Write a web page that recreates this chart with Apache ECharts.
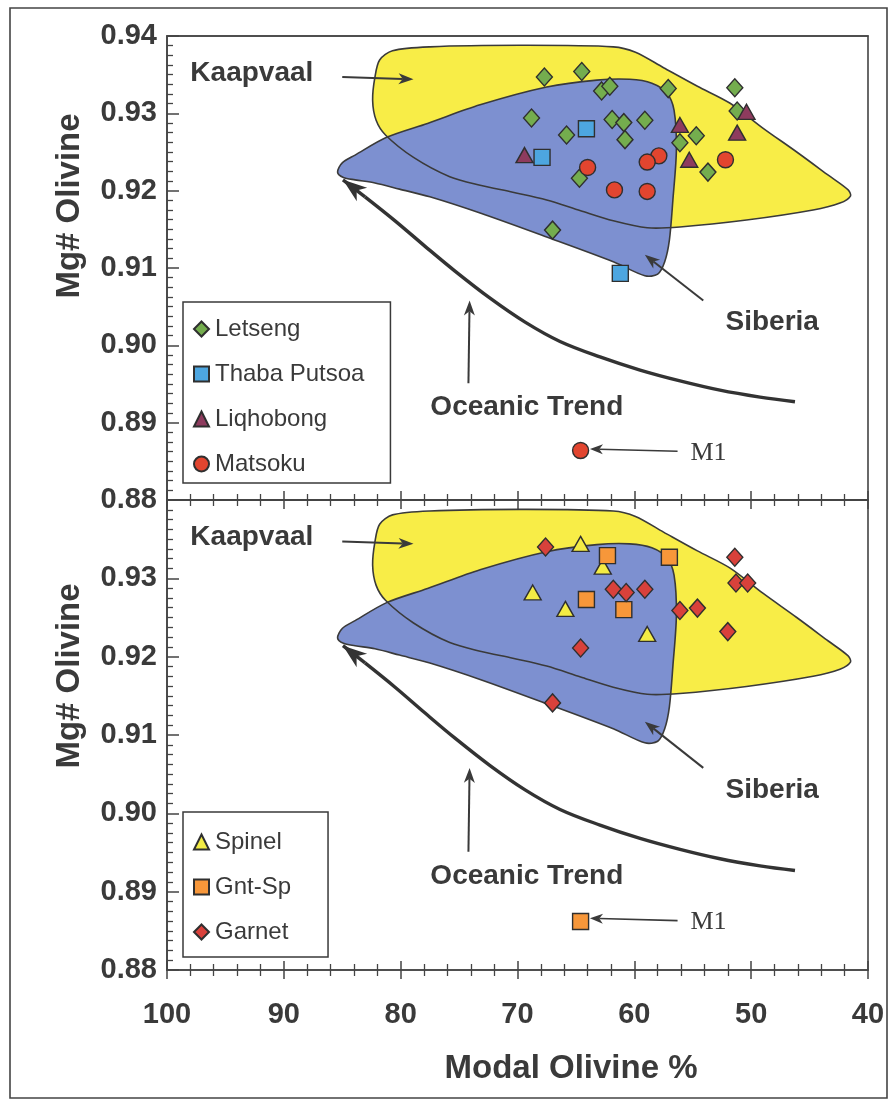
<!DOCTYPE html>
<html>
<head>
<meta charset="utf-8">
<script src="https://cdn.jsdelivr.net/npm/echarts@6/dist/echarts.min.js"></script>
<style>
  html, body { margin: 0; padding: 0; background: #ffffff; }
  #chart { width: 891px; height: 1103px; }
</style>
</head>
<body>
<div id="chart"></div>
<script>
// Samples as [modal olivine %, olivine Mg#]
const letseng = [[67.7,0.9347],[64.5,0.9354],[62.8,0.9329],[62.1,0.9335],[57.1,0.9332],[51.4,0.9333],
  [51.2,0.9303],[68.8,0.9294],[65.8,0.9272],[61.9,0.9292],[60.9,0.9288],[59.1,0.9291],[60.8,0.9266],
  [54.7,0.9271],[56.1,0.9262],[64.7,0.9216],[53.7,0.9224],[67.0,0.9149]];
const thabaPutsoa = [[64.1,0.9280],[67.9,0.9243],[61.2,0.9093]];
const liqhobong = [[50.4,0.9302],[56.1,0.9285],[51.2,0.9275],[69.4,0.9246],[55.3,0.9240]];
const matsoku = [[57.9,0.9245],[58.9,0.9237],[52.2,0.9240],[64.0,0.9230],[61.7,0.9201],[58.9,0.9199],[64.6,0.8864]];

const spinel = [[64.6,0.9344],[62.7,0.9315],[68.7,0.9282],[65.9,0.9261],[58.9,0.9229]];
const gntSp = [[62.3,0.9329],[57.0,0.9327],[64.1,0.9273],[60.9,0.9260],[64.6,0.8862]];
const garnet = [[67.6,0.9340],[51.4,0.9327],[51.3,0.9294],[50.3,0.9294],[61.8,0.9286],[60.7,0.9282],
  [59.1,0.9286],[56.1,0.9259],[54.6,0.9262],[52.0,0.9232],[64.6,0.9211],[67.0,0.9141]];

// Tick labels
const xTickLabels = ['40','50','60','70','80','90','100'];
const yTickLabelsTop = ['0.88','0.89','0.90','0.91','0.92','0.93','0.94'];
const yTickLabelsBottom = ['0.88','0.89','0.90','0.91','0.92','0.93','0.88'];

// Cratonic fields and oceanic trend, in data units
const kaapvaalField = [[81.8,0.9369],[80.7,0.9381],[77.5,0.9386],[69.8,0.9388],[61.8,0.9386],[59.9,0.9379],
  [57.5,0.9359],[54.6,0.9335],[51.8,0.9313],[49.0,0.9281],[46.1,0.9250],[43.4,0.9220],[41.7,0.9201],
  [41.5,0.9193],[42.4,0.9184],[44.7,0.9175],[50.4,0.9162],[56.1,0.9153],[58.9,0.9152],[61.8,0.9161],
  [64.6,0.9174],[67.5,0.9188],[70.4,0.9198],[73.2,0.9207],[75.8,0.9218],[78.9,0.9243],[81.3,0.9272],
  [82.1,0.9291],[82.4,0.9317],[82.2,0.9347]];
const siberiaField = [[85.4,0.9224],[85.0,0.9236],[83.9,0.9246],[81.2,0.9269],[77.7,0.9287],[73.2,0.9311],
  [67.5,0.9334],[63.2,0.9343],[60.4,0.9344],[58.5,0.9339],[57.2,0.9326],[56.6,0.9304],[56.4,0.9253],
  [56.7,0.9188],[57.0,0.9136],[57.4,0.9108],[58.0,0.9092],[59.1,0.9090],[61.8,0.9108],[67.5,0.9140],
  [73.2,0.9171],[77.5,0.9192],[80.1,0.9202],[82.2,0.9210],[83.9,0.9214],[84.9,0.9217]];
const oceanicTrend = [[84.94,0.9214],[83.05,0.9192],[80.48,0.9161],[77.91,0.9128],[75.35,0.9096],
  [72.35,0.9061],[69.35,0.9030],[66.36,0.9005],[62.94,0.8985],[59.51,0.8968],[56.09,0.8954],
  [52.67,0.8942],[49.24,0.8933],[46.25,0.8927]];

// Annotation labels with their pointer arrows
const noteTexts = ['Kaapvaal', 'Siberia', 'Oceanic Trend', 'M1'];
const noteAnchors = [[98.0,0.9352],[48.2,0.9030],[69.2,0.8920],[55.2,0.8861]];
const noteAligns = ['left', 'center', 'center', 'left'];
const arrowTails = [[85.0,0.9347],[54.1,0.9058],[74.2,0.8951],[56.3,0.8863]];
const arrowHeads = [[78.9,0.9344],[59.1,0.9117],[74.1,0.9058],[63.8,0.8866]];

const INK = '#3a3a3a';
const SANS = '"Liberation Sans", Arial, sans-serif';
const SERIF = '"Liberation Serif", "Times New Roman", serif';

function arrowHead(tip, from, len, wid) {
  const dx = tip[0] - from[0], dy = tip[1] - from[1];
  const d = Math.hypot(dx, dy) || 1;
  const ux = dx / d, uy = dy / d, px = -uy, py = ux;
  const bx = tip[0] - ux * len, by = tip[1] - uy * len;
  const nx = tip[0] - ux * len * 0.72, ny = tip[1] - uy * len * 0.72;
  return [tip, [bx + px * wid / 2, by + py * wid / 2], [nx, ny], [bx - px * wid / 2, by - py * wid / 2]];
}

function renderFields(params, api) {
  const k = kaapvaalField.map(p => api.coord(p));
  const s = siberiaField.map(p => api.coord(p));
  const t = oceanicTrend.map(p => api.coord(p));
  const edge = { fill: 'none', stroke: INK, lineWidth: 1.6 };
  return {
    type: 'group',
    children: [
      { type: 'polygon', shape: { points: k, smooth: 0.3 }, style: { fill: '#f8ed47' } },
      { type: 'polygon', shape: { points: s, smooth: 0.3 }, style: { fill: '#7d90d0' } },
      { type: 'polygon', shape: { points: k, smooth: 0.3 }, style: edge },
      { type: 'polygon', shape: { points: s, smooth: 0.3 }, style: edge },
      { type: 'polyline', shape: { points: t.slice(1), smooth: 0.35 }, style: { fill: 'none', stroke: '#333', lineWidth: 3.4 } },
      { type: 'polyline', shape: { points: [t[0], t[1]] }, style: { fill: 'none', stroke: '#333', lineWidth: 3.4 } },
      { type: 'polygon', shape: { points: arrowHead(t[0], t[1], 24, 17) }, style: { fill: '#333' } }
    ]
  };
}

function renderNotes(params, api) {
  const children = [];
  noteTexts.forEach((txt, i) => {
    const a = api.coord(noteAnchors[i]);
    const tail = api.coord(arrowTails[i]);
    const head = api.coord(arrowHeads[i]);
    const isM1 = txt === 'M1';
    children.push({
      type: 'text',
      style: {
        text: txt, x: a[0], y: a[1], align: noteAligns[i], verticalAlign: 'middle',
        font: isM1 ? '26px ' + SERIF : 'bold 28px ' + SANS, fill: INK
      }
    });
    const hb = arrowHead(head, tail, isM1 ? 13 : 15, isM1 ? 10 : 11);
    children.push({ type: 'line', shape: { x1: tail[0], y1: tail[1], x2: hb[2][0], y2: hb[2][1] },
      style: { stroke: INK, lineWidth: isM1 ? 1.6 : 2 } });
    children.push({ type: 'polygon', shape: { points: hb }, style: { fill: INK } });
  });
  return { type: 'group', children };
}

const markBorder = { borderColor: '#2f2f2f', borderWidth: 1.4 };

function scatter(name, data, symbol, size, color, xi, yi) {
  return {
    type: 'scatter', name, data, symbol, symbolSize: size, xAxisIndex: xi, yAxisIndex: yi, z: 5,
    itemStyle: Object.assign({ color, opacity: 1 }, markBorder),
    emphasis: { disabled: true }
  };
}

function xAxisBase(grid, position, tickInside, showLabel, showLine) {
  return {
    type: 'value', gridIndex: grid, position, inverse: true, min: 40, max: 100, interval: 10,
    axisLine: { show: showLine, onZero: false, lineStyle: { color: '#444', width: 1.6 } },
    axisTick: { show: tickInside !== null, inside: !!tickInside, length: 9, lineStyle: { color: '#444', width: 1.5 } },
    minorTick: { show: tickInside !== null, splitNumber: 5, length: 6, lineStyle: { color: '#444', width: 1.3 } },
    axisLabel: {
      show: showLabel, margin: 30, fontSize: 29, fontWeight: 'bold', color: INK, fontFamily: SANS,
      formatter: v => xTickLabels[Math.round((v - 40) / 10)]
    },
    splitLine: { show: false }, minorSplitLine: { show: false }
  };
}

function yAxisBase(grid, labels, showMin) {
  return {
    type: 'value', gridIndex: grid, position: 'left', min: 0.88, max: 0.94, interval: 0.01,
    axisLine: { show: true, onZero: false, lineStyle: { color: '#444', width: 1.6 } },
    axisTick: { show: true, inside: true, length: 12, lineStyle: { color: '#444', width: 1.5 } },
    minorTick: { show: true, splitNumber: 8, length: 6, lineStyle: { color: '#444', width: 1.3 } },
    axisLabel: {
      show: true, margin: 10, fontSize: 29, fontWeight: 'bold', color: INK, fontFamily: SANS,
      showMinLabel: showMin, showMaxLabel: true,
      formatter: v => labels[Math.round((v - 0.88) * 100)]
    },
    splitLine: { show: false }
  };
}

function legendBox(names, top, pad) {
  return {
    data: names, orient: 'vertical', left: 183, top,
    itemWidth: 15, itemHeight: 15, itemGap: 21,
    padding: pad,
    borderColor: '#3a3a3a', borderWidth: 1.5, borderRadius: 0, backgroundColor: '#fff',
    selectedMode: false,
    textStyle: { fontSize: 24, color: INK, fontFamily: SANS, padding: [0, 0, 0, 1] }
  };
}

const chart = echarts.init(document.getElementById('chart'), null, { renderer: 'canvas' });

chart.setOption({
  backgroundColor: '#ffffff',
  animation: false,
  grid: [
    { left: 167, top: 36, width: 701, height: 464, show: true, borderColor: '#444', borderWidth: 1.6, backgroundColor: 'transparent' },
    { left: 167, top: 500, width: 701, height: 470, show: true, borderColor: '#444', borderWidth: 1.6, backgroundColor: 'transparent' }
  ],
  xAxis: [
    xAxisBase(0, 'bottom', true, false, true),
    xAxisBase(0, 'top', null, false, true),
    xAxisBase(1, 'top', true, false, true),
    xAxisBase(1, 'bottom', true, true, true),
    xAxisBase(1, 'bottom', false, false, false)
  ],
  yAxis: [
    yAxisBase(0, yTickLabelsTop, false),
    yAxisBase(1, yTickLabelsBottom, true)
  ],
  legend: [
    legendBox(['Letseng', 'Thaba Putsoa', 'Liqhobong', 'Matsoku'], 302, [15, 26, 7, 10]),
    legendBox(['Spinel', 'Gnt-Sp', 'Garnet'], 812, [18, 37, 13, 10])
  ],
  series: [
    { type: 'custom', xAxisIndex: 0, yAxisIndex: 0, data: [[70, 0.92]], renderItem: renderFields, z: 1, silent: true },
    { type: 'custom', xAxisIndex: 3, yAxisIndex: 1, data: [[70, 0.92]], renderItem: renderFields, z: 1, silent: true },
    { type: 'custom', xAxisIndex: 0, yAxisIndex: 0, data: [[70, 0.92]], renderItem: renderNotes, z: 3, silent: true },
    { type: 'custom', xAxisIndex: 3, yAxisIndex: 1, data: [[70, 0.92]], renderItem: renderNotes, z: 3, silent: true },
    scatter('Letseng', letseng, 'diamond', [16, 18], '#74ad4e', 0, 0),
    scatter('Thaba Putsoa', thabaPutsoa, 'rect', 16, '#4da6e0', 0, 0),
    scatter('Liqhobong', liqhobong, 'triangle', [17, 15], '#8e3b5e', 0, 0),
    scatter('Matsoku', matsoku, 'circle', 16, '#e2452f', 0, 0),
    scatter('Spinel', spinel, 'triangle', [17, 15], '#f3ec45', 3, 1),
    scatter('Gnt-Sp', gntSp, 'rect', 16, '#f7973a', 3, 1),
    scatter('Garnet', garnet, 'diamond', [16, 18], '#d8413b', 3, 1)
  ],
  graphic: [
    { type: 'rect', shape: { x: 10, y: 8, width: 877, height: 1090 }, style: { fill: 'none', stroke: '#444', lineWidth: 1.6 }, z: -1, silent: true },
    { type: 'text', x: 70, y: 206, rotation: Math.PI / 2, style: { text: 'Mg# Olivine', font: 'bold 33px ' + SANS, fill: INK, align: 'center', verticalAlign: 'middle' } },
    { type: 'text', x: 70, y: 676, rotation: Math.PI / 2, style: { text: 'Mg# Olivine', font: 'bold 33px ' + SANS, fill: INK, align: 'center', verticalAlign: 'middle' } },
    { type: 'text', x: 571, y: 1069, style: { text: 'Modal Olivine %', font: 'bold 33px ' + SANS, fill: INK, align: 'center', verticalAlign: 'middle' } }
  ]
});
</script>
</body>
</html>
